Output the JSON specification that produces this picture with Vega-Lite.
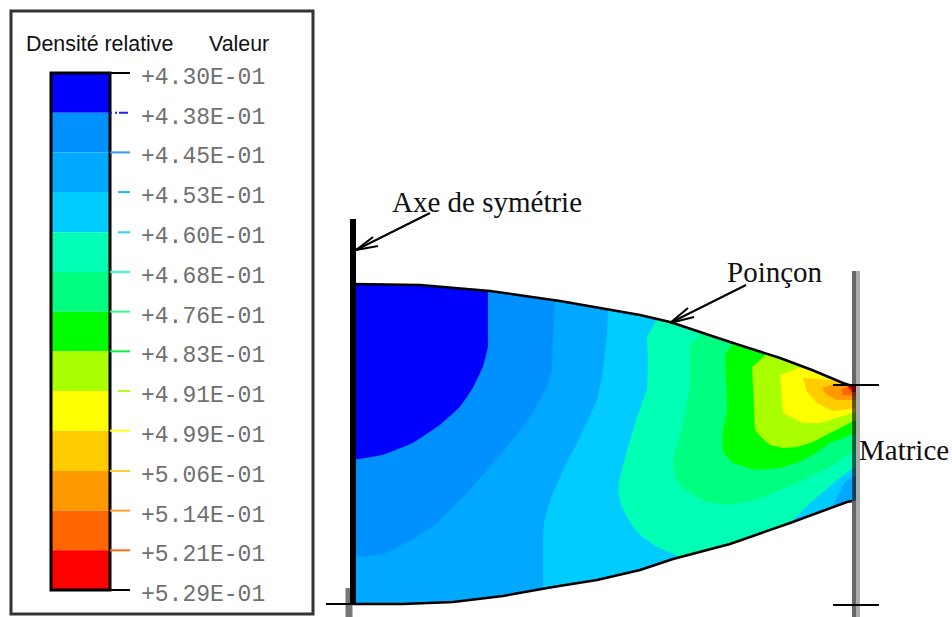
{"$schema":"https://vega.github.io/schema/vega-lite/v6.json","width":952,"height":617,"padding":0,"autosize":"none","background":"white","config":{"view":{"stroke":null}},
"datasets":{
"bands":[{"band":"b1","from":0.43,"to":0.4376},{"band":"b2","from":0.4376,"to":0.4452},{"band":"b3","from":0.4452,"to":0.4528},{"band":"b4","from":0.4528,"to":0.4605},{"band":"b5","from":0.4605,"to":0.4681},{"band":"b6","from":0.4681,"to":0.4757},{"band":"b7","from":0.4757,"to":0.4833},{"band":"b8","from":0.4833,"to":0.4909},{"band":"b9","from":0.4909,"to":0.4985},{"band":"b10","from":0.4985,"to":0.5062},{"band":"b11","from":0.5062,"to":0.5138},{"band":"b12","from":0.5138,"to":0.5214},{"band":"b13","from":0.5214,"to":0.529}],
"ticks":[{"v":0.43,"label":"+4.30E-01","kind":"long"},{"v":0.4376,"label":"+4.38E-01","kind":"dash"},{"v":0.4452,"label":"+4.45E-01","kind":"long"},{"v":0.4528,"label":"+4.53E-01","kind":"short"},{"v":0.4605,"label":"+4.60E-01","kind":"short"},{"v":0.4681,"label":"+4.68E-01","kind":"long"},{"v":0.4757,"label":"+4.76E-01","kind":"long"},{"v":0.4833,"label":"+4.83E-01","kind":"long"},{"v":0.4909,"label":"+4.91E-01","kind":"short"},{"v":0.4985,"label":"+4.99E-01","kind":"long"},{"v":0.5062,"label":"+5.06E-01","kind":"long"},{"v":0.5138,"label":"+5.14E-01","kind":"long"},{"v":0.5214,"label":"+5.21E-01","kind":"long"},{"v":0.529,"label":"+5.29E-01","kind":"long"}],
"poly":[
{"band":"b3","i":1,"x":353,"y":284},{"band":"b3","i":2,"x":420,"y":285},{"band":"b3","i":2.5,"x":455,"y":288},{"band":"b3","i":3,"x":490,"y":291},{"band":"b3","i":3.5,"x":525,"y":296},{"band":"b3","i":4,"x":560,"y":301},{"band":"b3","i":4.5,"x":600,"y":308},{"band":"b3","i":5,"x":640,"y":315},{"band":"b3","i":6,"x":670,"y":322},{"band":"b3","i":6.5,"x":700,"y":332},{"band":"b3","i":7,"x":730,"y":342},{"band":"b3","i":7.5,"x":755,"y":350},{"band":"b3","i":8,"x":780,"y":358},{"band":"b3","i":8.5,"x":812,"y":370},{"band":"b3","i":9,"x":843,"y":383},{"band":"b3","i":10,"x":856,"y":386},{"band":"b3","i":11,"x":856,"y":500},{"band":"b3","i":12,"x":847,"y":502},{"band":"b3","i":13,"x":790,"y":523},{"band":"b3","i":14,"x":730,"y":544},{"band":"b3","i":15,"x":673,"y":559},{"band":"b3","i":16,"x":640,"y":570},{"band":"b3","i":16.5,"x":597,"y":580},{"band":"b3","i":17,"x":553,"y":587},{"band":"b3","i":17.5,"x":503,"y":596},{"band":"b3","i":18,"x":453,"y":602},{"band":"b3","i":18.5,"x":403,"y":604},{"band":"b3","i":19,"x":353,"y":604},
{"band":"b1","i":1,"x":353,"y":284},{"band":"b1","i":2,"x":420,"y":285},{"band":"b1","i":2.5,"x":455,"y":288},{"band":"b1","i":3,"x":488,"y":291},{"band":"b1","i":4,"x":488,"y":347},{"band":"b1","i":5,"x":486,"y":358},{"band":"b1","i":6,"x":483,"y":367},{"band":"b1","i":7,"x":478,"y":378},{"band":"b1","i":8,"x":473,"y":388},{"band":"b1","i":9,"x":467,"y":398},{"band":"b1","i":10,"x":460,"y":407},{"band":"b1","i":11,"x":450,"y":417},{"band":"b1","i":12,"x":440,"y":425},{"band":"b1","i":13,"x":427,"y":435},{"band":"b1","i":14,"x":413,"y":443},{"band":"b1","i":15,"x":400,"y":450},{"band":"b1","i":16,"x":383,"y":455},{"band":"b1","i":17,"x":370,"y":458},{"band":"b1","i":18,"x":353,"y":460},
{"band":"b2","i":1,"x":488,"y":291},{"band":"b2","i":1.5,"x":525,"y":296},{"band":"b2","i":2,"x":555,"y":300},{"band":"b2","i":2.5,"x":553,"y":337},{"band":"b2","i":3,"x":552,"y":370},{"band":"b2","i":3.5,"x":547,"y":387},{"band":"b2","i":4,"x":540,"y":400},{"band":"b2","i":4.5,"x":530,"y":417},{"band":"b2","i":5,"x":520,"y":430},{"band":"b2","i":5.5,"x":507,"y":447},{"band":"b2","i":6,"x":493,"y":463},{"band":"b2","i":6.5,"x":480,"y":478},{"band":"b2","i":7,"x":467,"y":493},{"band":"b2","i":7.5,"x":450,"y":510},{"band":"b2","i":8,"x":437,"y":523},{"band":"b2","i":9,"x":417,"y":537},{"band":"b2","i":10,"x":387,"y":553},{"band":"b2","i":10.5,"x":370,"y":556},{"band":"b2","i":11,"x":353,"y":557},{"band":"b2","i":12,"x":353,"y":460},{"band":"b2","i":13,"x":383,"y":455},{"band":"b2","i":14,"x":413,"y":443},{"band":"b2","i":15,"x":440,"y":425},{"band":"b2","i":16,"x":460,"y":407},{"band":"b2","i":17,"x":473,"y":388},{"band":"b2","i":18,"x":483,"y":367},{"band":"b2","i":19,"x":488,"y":347},
{"band":"b4","i":1,"x":608,"y":310},{"band":"b4","i":1.5,"x":607,"y":333},{"band":"b4","i":2,"x":605,"y":353},{"band":"b4","i":2.5,"x":602,"y":377},{"band":"b4","i":3,"x":597,"y":400},{"band":"b4","i":3.5,"x":588,"y":420},{"band":"b4","i":4,"x":577,"y":443},{"band":"b4","i":4.5,"x":568,"y":460},{"band":"b4","i":5,"x":560,"y":477},{"band":"b4","i":5.5,"x":553,"y":493},{"band":"b4","i":6,"x":547,"y":510},{"band":"b4","i":6.5,"x":544,"y":523},{"band":"b4","i":7,"x":543,"y":537},{"band":"b4","i":8,"x":543,"y":589},{"band":"b4","i":9,"x":553,"y":587},{"band":"b4","i":9.5,"x":597,"y":580},{"band":"b4","i":10,"x":640,"y":570},{"band":"b4","i":11,"x":673,"y":559},{"band":"b4","i":12,"x":730,"y":544},{"band":"b4","i":13,"x":790,"y":523},{"band":"b4","i":14,"x":847,"y":502},{"band":"b4","i":15,"x":856,"y":500},{"band":"b4","i":16,"x":856,"y":386},{"band":"b4","i":17,"x":843,"y":383},{"band":"b4","i":17.5,"x":812,"y":370},{"band":"b4","i":18,"x":780,"y":358},{"band":"b4","i":18.5,"x":755,"y":350},{"band":"b4","i":19,"x":730,"y":342},{"band":"b4","i":19.5,"x":700,"y":332},{"band":"b4","i":20,"x":670,"y":322},{"band":"b4","i":21,"x":640,"y":315},
{"band":"b5","i":1,"x":657,"y":319},{"band":"b5","i":2,"x":647,"y":337},{"band":"b5","i":3,"x":648,"y":363},{"band":"b5","i":4,"x":647,"y":390},{"band":"b5","i":5,"x":637,"y":417},{"band":"b5","i":5.5,"x":628,"y":447},{"band":"b5","i":6,"x":620,"y":477},{"band":"b5","i":7,"x":618,"y":490},{"band":"b5","i":7.5,"x":621,"y":505},{"band":"b5","i":8,"x":627,"y":517},{"band":"b5","i":8.5,"x":633,"y":527},{"band":"b5","i":9,"x":640,"y":535},{"band":"b5","i":9.5,"x":648,"y":541},{"band":"b5","i":10,"x":657,"y":547},{"band":"b5","i":11,"x":680,"y":557},{"band":"b5","i":12,"x":730,"y":544},{"band":"b5","i":13,"x":790,"y":523},{"band":"b5","i":14,"x":810,"y":503},{"band":"b5","i":15,"x":837,"y":480},{"band":"b5","i":16,"x":856,"y":466},{"band":"b5","i":17,"x":856,"y":386},{"band":"b5","i":18,"x":843,"y":383},{"band":"b5","i":18.5,"x":812,"y":370},{"band":"b5","i":19,"x":780,"y":358},{"band":"b5","i":19.5,"x":755,"y":350},{"band":"b5","i":20,"x":730,"y":342},{"band":"b5","i":20.5,"x":700,"y":332},{"band":"b5","i":21,"x":670,"y":322},
{"band":"b6","i":1,"x":702,"y":333},{"band":"b6","i":2,"x":690,"y":345},{"band":"b6","i":3,"x":690,"y":387},{"band":"b6","i":4,"x":683,"y":423},{"band":"b6","i":5,"x":673,"y":460},{"band":"b6","i":5.5,"x":674,"y":470},{"band":"b6","i":6,"x":677,"y":480},{"band":"b6","i":6.5,"x":683,"y":488},{"band":"b6","i":7,"x":690,"y":493},{"band":"b6","i":7.5,"x":707,"y":502},{"band":"b6","i":8,"x":727,"y":505},{"band":"b6","i":8.5,"x":747,"y":502},{"band":"b6","i":9,"x":763,"y":497},{"band":"b6","i":9.5,"x":780,"y":490},{"band":"b6","i":10,"x":797,"y":483},{"band":"b6","i":11,"x":830,"y":467},{"band":"b6","i":12,"x":856,"y":450},{"band":"b6","i":13,"x":856,"y":386},{"band":"b6","i":14,"x":843,"y":383},{"band":"b6","i":14.5,"x":812,"y":370},{"band":"b6","i":15,"x":780,"y":358},{"band":"b6","i":15.5,"x":755,"y":350},{"band":"b6","i":16,"x":730,"y":342},
{"band":"b7","i":1,"x":733,"y":343},{"band":"b7","i":2,"x":725,"y":355},{"band":"b7","i":3,"x":727,"y":410},{"band":"b7","i":4,"x":722,"y":437},{"band":"b7","i":5,"x":723,"y":452},{"band":"b7","i":5.5,"x":728,"y":458},{"band":"b7","i":6,"x":733,"y":463},{"band":"b7","i":6.5,"x":747,"y":468},{"band":"b7","i":7,"x":760,"y":470},{"band":"b7","i":7.5,"x":780,"y":468},{"band":"b7","i":8,"x":797,"y":463},{"band":"b7","i":8.5,"x":813,"y":455},{"band":"b7","i":9,"x":830,"y":443},{"band":"b7","i":10,"x":856,"y":433},{"band":"b7","i":11,"x":856,"y":386},{"band":"b7","i":12,"x":843,"y":383},{"band":"b7","i":12.5,"x":812,"y":370},{"band":"b7","i":13,"x":780,"y":358},{"band":"b7","i":13.5,"x":755,"y":350},
{"band":"b8","i":1,"x":767,"y":354},{"band":"b8","i":2,"x":752,"y":367},{"band":"b8","i":3,"x":755,"y":430},{"band":"b8","i":3.5,"x":762,"y":438},{"band":"b8","i":4,"x":770,"y":445},{"band":"b8","i":4.5,"x":783,"y":448},{"band":"b8","i":5,"x":797,"y":447},{"band":"b8","i":5.5,"x":813,"y":442},{"band":"b8","i":6,"x":830,"y":433},{"band":"b8","i":7,"x":856,"y":420},{"band":"b8","i":8,"x":856,"y":386},{"band":"b8","i":9,"x":843,"y":383},{"band":"b8","i":9.5,"x":812,"y":370},{"band":"b8","i":10,"x":780,"y":358},
{"band":"b9","i":1,"x":802,"y":367},{"band":"b9","i":2,"x":780,"y":375},{"band":"b9","i":3,"x":783,"y":413},{"band":"b9","i":4,"x":803,"y":423},{"band":"b9","i":5,"x":820,"y":423},{"band":"b9","i":6,"x":856,"y":412},{"band":"b9","i":7,"x":856,"y":386},{"band":"b9","i":8,"x":843,"y":383},
{"band":"b10","i":1,"x":830,"y":380},{"band":"b10","i":2,"x":803,"y":378},{"band":"b10","i":3,"x":807,"y":392},{"band":"b10","i":4,"x":817,"y":403},{"band":"b10","i":5,"x":833,"y":411},{"band":"b10","i":6,"x":856,"y":408},{"band":"b10","i":7,"x":856,"y":386},{"band":"b10","i":8,"x":843,"y":383},
{"band":"b11","i":1,"x":835,"y":384},{"band":"b11","i":2,"x":822,"y":388},{"band":"b11","i":3,"x":827,"y":395},{"band":"b11","i":4,"x":837,"y":400},{"band":"b11","i":5,"x":856,"y":400},{"band":"b11","i":6,"x":856,"y":386},
{"band":"b12","i":1,"x":848,"y":386},{"band":"b12","i":2,"x":841,"y":390},{"band":"b12","i":3,"x":843,"y":395},{"band":"b12","i":4,"x":856,"y":396},{"band":"b12","i":5,"x":856,"y":386},
{"band":"b13","i":1,"x":856,"y":386},{"band":"b13","i":2,"x":848,"y":387},{"band":"b13","i":3,"x":852,"y":392},{"band":"b13","i":4,"x":856,"y":392},
{"band":"b3c","i":1,"x":832,"y":507},{"band":"b3c","i":2,"x":856,"y":500},{"band":"b3c","i":3,"x":856,"y":475},{"band":"b3c","i":4,"x":845,"y":482}
],
"curves":[
{"c":"top","i":1,"x":353,"y":284},{"c":"top","i":2,"x":420,"y":285},{"c":"top","i":2.5,"x":455,"y":288},{"c":"top","i":3,"x":490,"y":291},{"c":"top","i":3.5,"x":525,"y":296},{"c":"top","i":4,"x":560,"y":301},{"c":"top","i":4.5,"x":600,"y":308},{"c":"top","i":5,"x":640,"y":315},{"c":"top","i":6,"x":670,"y":322},{"c":"top","i":6.5,"x":700,"y":332},{"c":"top","i":7,"x":730,"y":342},{"c":"top","i":7.5,"x":755,"y":350},{"c":"top","i":8,"x":780,"y":358},{"c":"top","i":8.5,"x":812,"y":370},{"c":"top","i":9,"x":843,"y":383},{"c":"top","i":10,"x":852,"y":386},
{"c":"bottom","i":1,"x":353,"y":604},{"c":"bottom","i":1.5,"x":403,"y":604},{"c":"bottom","i":2,"x":453,"y":602},{"c":"bottom","i":2.5,"x":503,"y":596},{"c":"bottom","i":3,"x":553,"y":587},{"c":"bottom","i":3.5,"x":597,"y":580},{"c":"bottom","i":4,"x":640,"y":570},{"c":"bottom","i":5,"x":673,"y":559},{"c":"bottom","i":6,"x":730,"y":544},{"c":"bottom","i":7,"x":790,"y":523},{"c":"bottom","i":8,"x":847,"y":502},{"c":"bottom","i":9,"x":852,"y":501}],
"thin":[
{"x":326,"y":604,"x2":353,"y2":604},{"x":833,"y":385,"x2":879,"y2":385},{"x":833,"y":605,"x2":879,"y2":605},
{"x":430,"y":213,"x2":356,"y2":250},{"x":378,"y":246,"x2":356,"y2":250},{"x":373,"y":237,"x2":356,"y2":250},
{"x":746,"y":285,"x2":670,"y2":323},{"x":694,"y":317,"x2":670,"y2":323},{"x":688,"y":308,"x2":670,"y2":323}],
"serif":[{"x":392,"y":212,"t":"Axe de symétrie"},{"x":727,"y":282,"t":"Poinçon"},{"x":859,"y":460,"t":"Matrice"}],
"sans":[{"x":26,"y":51,"t":"Densité relative"},{"x":209,"y":51,"t":"Valeur"}]
},
"layer":[
{"data":{"values":[{"part":"frame"}]},"mark":{"type":"rect","fill":"white","stroke":"#333333","strokeWidth":3},"encoding":{"x":{"value":11},"x2":{"value":313},"y":{"value":11},"y2":{"value":614}}},
{"data":{"name":"sans"},"mark":{"type":"text","font":"Liberation Sans","fontSize":21.4,"align":"left","baseline":"alphabetic","color":"#111111"},"encoding":{"x":{"field":"x","type":"quantitative","axis":null,"scale":{"domain":[0,952],"nice":false,"zero":false}},"y":{"field":"y","type":"quantitative","axis":null,"scale":{"domain":[617,0],"nice":false,"zero":false}},"text":{"field":"t"}}},
{"data":{"name":"bands"},"mark":{"type":"rect"},"encoding":{"x":{"value":51},"x2":{"value":110},"y":{"field":"from","type":"quantitative","axis":null,"scale":{"domain":[0.43,0.529],"range":[73,590],"nice":false,"zero":false}},"y2":{"field":"to"},"fill":{"field":"band","type":"nominal","legend":null,"scale":{"domain":["b1","b2","b3","b4","b5","b6","b7","b8","b9","b10","b11","b12","b13","b3c"],"range":["#0000ff","#0091ff","#00a8ff","#00ccff","#00ffb4","#00ff80","#00ff00","#aaff00","#ffff00","#ffcc00","#ff9900","#ff6600","#ff0000","#00a8ff"]}}}},
{"data":{"values":[{"part":"bar"}]},"mark":{"type":"rect","fill":"transparent","stroke":"#000000","strokeWidth":3},"encoding":{"x":{"value":51},"x2":{"value":110},"y":{"value":73},"y2":{"value":590}}},
{"data":{"name":"ticks"},"transform":[{"filter":"datum.kind=='long'"}],"mark":{"type":"rule","strokeWidth":2},"encoding":{"x":{"value":110},"x2":{"value":130},"y":{"field":"v","type":"quantitative","axis":null,"scale":{"domain":[0.43,0.529],"range":[73,590],"nice":false,"zero":false}},"stroke":{"field":"label","type":"nominal","legend":null,"scale":{"domain":["+4.30E-01","+4.45E-01","+4.68E-01","+4.76E-01","+4.83E-01","+4.99E-01","+5.06E-01","+5.14E-01","+5.21E-01","+5.29E-01"],"range":["#000000","#2a9cff","#30ffc8","#30ff90","#10f040","#ffff20","#ffcc30","#ffa030","#ff6a10","#000000"]}}}},
{"data":{"name":"ticks"},"transform":[{"filter":"datum.kind=='short'"}],"mark":{"type":"rule","strokeWidth":2},"encoding":{"x":{"value":118},"x2":{"value":130},"y":{"field":"v","type":"quantitative","axis":null,"scale":{"domain":[0.43,0.529],"range":[73,590],"nice":false,"zero":false}},"stroke":{"field":"label","type":"nominal","legend":null,"scale":{"domain":["+4.53E-01","+4.60E-01","+4.91E-01"],"range":["#20b8ff","#20d8ff","#b0ff20"]}}}},
{"data":{"name":"ticks"},"transform":[{"filter":"datum.kind=='dash'"}],"mark":{"type":"rule","strokeWidth":2,"color":"#2020ff","strokeDash":[2,3,2,2,9]},"encoding":{"x":{"value":110},"x2":{"value":130},"y":{"field":"v","type":"quantitative","axis":null,"scale":{"domain":[0.43,0.529],"range":[73,590],"nice":false,"zero":false}}}},
{"data":{"name":"ticks"},"mark":{"type":"text","font":"Liberation Mono","fontSize":23,"align":"left","baseline":"middle","dy":4,"color":"#707070"},"encoding":{"x":{"value":141},"y":{"field":"v","type":"quantitative","axis":null,"scale":{"domain":[0.43,0.529],"range":[73,590],"nice":false,"zero":false}},"text":{"field":"label"}}},
{"data":{"name":"poly"},"mark":{"type":"line","strokeWidth":0,"filled":true,"interpolate":"linear"},"encoding":{"x":{"field":"x","type":"quantitative","axis":null,"scale":{"domain":[0,952],"nice":false,"zero":false}},"y":{"field":"y","type":"quantitative","axis":null,"scale":{"domain":[617,0],"nice":false,"zero":false}},"order":{"field":"i"},"detail":{"field":"band"},"fill":{"field":"band","type":"nominal","legend":null,"scale":{"domain":["b1","b2","b3","b4","b5","b6","b7","b8","b9","b10","b11","b12","b13","b3c"],"range":["#0000ff","#0091ff","#00a8ff","#00ccff","#00ffb4","#00ff80","#00ff00","#aaff00","#ffff00","#ffcc00","#ff9900","#ff6600","#ff0000","#00a8ff"]}}}},
{"data":{"name":"curves"},"mark":{"type":"line","color":"#000000","strokeWidth":2.5},"encoding":{"x":{"field":"x","type":"quantitative","axis":null,"scale":{"domain":[0,952],"nice":false,"zero":false}},"y":{"field":"y","type":"quantitative","axis":null,"scale":{"domain":[617,0],"nice":false,"zero":false}},"order":{"field":"i"},"detail":{"field":"c"}}},
{"data":{"values":[{"part":"stub"}]},"mark":{"type":"rule","color":"#777777","strokeWidth":7},"encoding":{"x":{"value":349},"y":{"value":588},"y2":{"value":617}}},
{"data":{"values":[{"part":"axis"}]},"mark":{"type":"rule","color":"#000000","strokeWidth":6},"encoding":{"x":{"value":353},"y":{"value":219},"y2":{"value":603}}},
{"data":{"values":[{"part":"matrix"}]},"mark":{"type":"rule","color":"#000000","opacity":0.6,"strokeWidth":4},"encoding":{"x":{"value":854},"y":{"value":271},"y2":{"value":617}}},
{"data":{"values":[{"part":"matrix"}]},"mark":{"type":"rule","color":"#aaaaaa","strokeWidth":4},"encoding":{"x":{"value":858},"y":{"value":271},"y2":{"value":617}}},
{"data":{"name":"thin"},"mark":{"type":"rule","color":"#000000","strokeWidth":2},"encoding":{"x":{"field":"x","type":"quantitative","axis":null,"scale":{"domain":[0,952],"nice":false,"zero":false}},"x2":{"field":"x2"},"y":{"field":"y","type":"quantitative","axis":null,"scale":{"domain":[617,0],"nice":false,"zero":false}},"y2":{"field":"y2"}}},
{"data":{"name":"serif"},"mark":{"type":"text","font":"Liberation Serif","fontSize":29,"align":"left","baseline":"alphabetic","color":"#111111"},"encoding":{"x":{"field":"x","type":"quantitative","axis":null,"scale":{"domain":[0,952],"nice":false,"zero":false}},"y":{"field":"y","type":"quantitative","axis":null,"scale":{"domain":[617,0],"nice":false,"zero":false}},"text":{"field":"t"}}}
],
"resolve":{"scale":{"x":"independent","y":"independent","fill":"independent","stroke":"independent"}}}
